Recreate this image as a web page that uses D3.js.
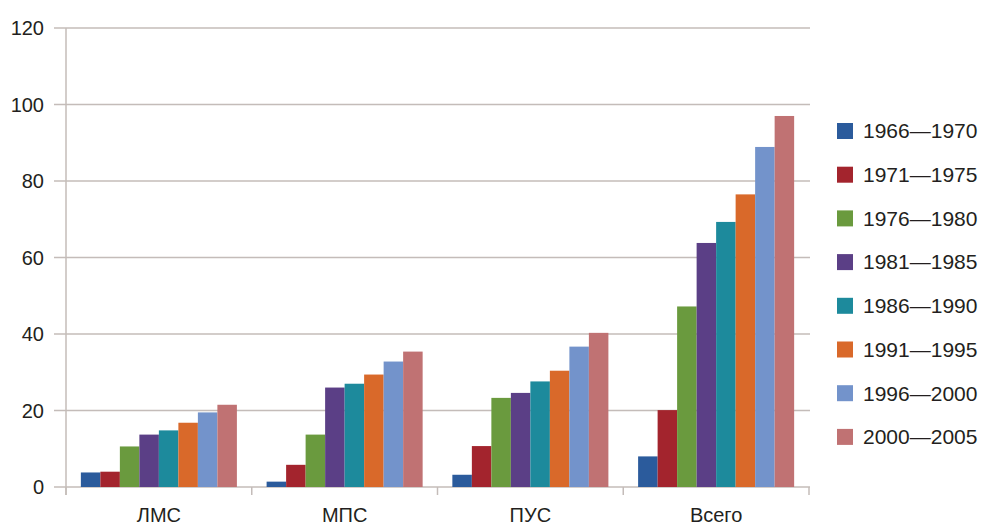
<!DOCTYPE html>
<html>
<head>
<meta charset="utf-8">
<script src="https://cdn.jsdelivr.net/npm/d3@7"></script>
<style>
    body { margin: 0; background: #fff; }
    svg { font-family: "Liberation Sans", Arial, sans-serif; }
</style>
</head>
<body>
<svg width="981" height="526"></svg>
<script>
// Data.
const categories = ['ЛМС', 'МПС', 'ПУС', 'Всего'];
const periods = ['1966—1970', '1971—1975', '1976—1980', '1981—1985',
    '1986—1990', '1991—1995', '1996—2000', '2000—2005'];
const colors = ['#2b5b9c', '#a3242d', '#6a9a3e', '#5b3f86',
    '#1d8a9c', '#d9692a', '#7393cb', '#c07273'];
// one array per category, one value per period
const lmsValues = [3.8, 4.0, 10.6, 13.7, 14.8, 16.8, 19.5, 21.5];
const mpsValues = [1.4, 5.8, 13.7, 26.0, 27.0, 29.4, 32.8, 35.4];
const pusValues = [3.2, 10.7, 23.3, 24.6, 27.6, 30.4, 36.7, 40.3];
const totalValues = [8.0, 20.1, 47.2, 63.8, 69.3, 76.5, 88.9, 97.0];
const yTicks = [0, 20, 40, 60, 80, 100, 120];

const rows = categories.map((c, i) => ({
    name: c,
    values: [lmsValues, mpsValues, pusValues, totalValues][i],
}));

const margin = { left: 66, right: 172, top: 28, bottom: 39 };
const width = 981;
const height = 526;

const svg = d3.select('svg');

const x0 = d3.scaleBand()
    .domain(categories)
    .range([margin.left, width - margin.right])
    .paddingInner(0.16)
    .paddingOuter(0.08);

const x1 = d3.scaleBand()
    .domain(periods)
    .range([0, x0.bandwidth()]);

const y = d3.scaleLinear()
    .domain([0, 120])
    .range([height - margin.bottom, margin.top]);

const gridColor = '#c4bcb9';

// horizontal gridlines with little ticks out to the left
svg.append('g').selectAll('line')
    .data(yTicks)
    .enter()
    .append('line')
    .attr('x1', margin.left - 12)
    .attr('x2', width - margin.right + 1)
    .attr('y1', d => y(d))
    .attr('y2', d => y(d))
    .attr('stroke', gridColor)
    .attr('stroke-width', 1.5);

svg.append('g').selectAll('text')
    .data(yTicks)
    .enter()
    .append('text')
    .attr('x', 44)
    .attr('y', d => y(d))
    .attr('dy', '0.35em')
    .attr('text-anchor', 'end')
    .attr('font-size', 20)
    .attr('fill', '#231f20')
    .text(d => d);

// vertical axis line
svg.append('line')
    .attr('x1', margin.left)
    .attr('x2', margin.left)
    .attr('y1', y(120))
    .attr('y2', y(0) + 8)
    .attr('stroke', gridColor)
    .attr('stroke-width', 1.5);

// category separators below the baseline
const sepX = categories.map(c => x0(c) - x0.step() * 0.08)
    .concat([width - margin.right]);
svg.append('g').selectAll('line')
    .data(sepX)
    .enter()
    .append('line')
    .attr('x1', d => d)
    .attr('x2', d => d)
    .attr('y1', y(0))
    .attr('y2', y(0) + 8)
    .attr('stroke', gridColor)
    .attr('stroke-width', 1.5);

// bars
const groups = svg.append('g').selectAll('g')
    .data(rows)
    .enter()
    .append('g')
    .attr('transform', d => `translate(${x0(d.name)},0)`);

groups.selectAll('rect')
    .data(d => d.values.map((v, i) => ({ period: periods[i], value: v, color: colors[i] })))
    .enter()
    .append('rect')
    .attr('x', d => x1(d.period))
    .attr('width', x1.bandwidth())
    .attr('y', d => y(d.value))
    .attr('height', d => y(0) - y(d.value))
    .attr('fill', d => d.color);

// category labels
svg.append('g').selectAll('text')
    .data(categories)
    .enter()
    .append('text')
    .attr('x', d => x0(d) + x0.bandwidth() / 2)
    .attr('y', 515)
    .attr('dy', '0.35em')
    .attr('text-anchor', 'middle')
    .attr('font-size', 20)
    .attr('fill', '#231f20')
    .text(d => d);

// legend
const legend = svg.append('g').selectAll('g')
    .data(periods)
    .enter()
    .append('g')
    .attr('transform', (d, i) => `translate(837,${131 + i * 43.7})`);

legend.append('rect')
    .attr('x', 0)
    .attr('y', -8)
    .attr('width', 16)
    .attr('height', 16)
    .attr('fill', (d, i) => colors[i]);

legend.append('text')
    .attr('x', 26)
    .attr('dy', '0.35em')
    .attr('font-size', 21)
    .attr('fill', '#231f20')
    .text(d => d);
</script>
</body>
</html>
